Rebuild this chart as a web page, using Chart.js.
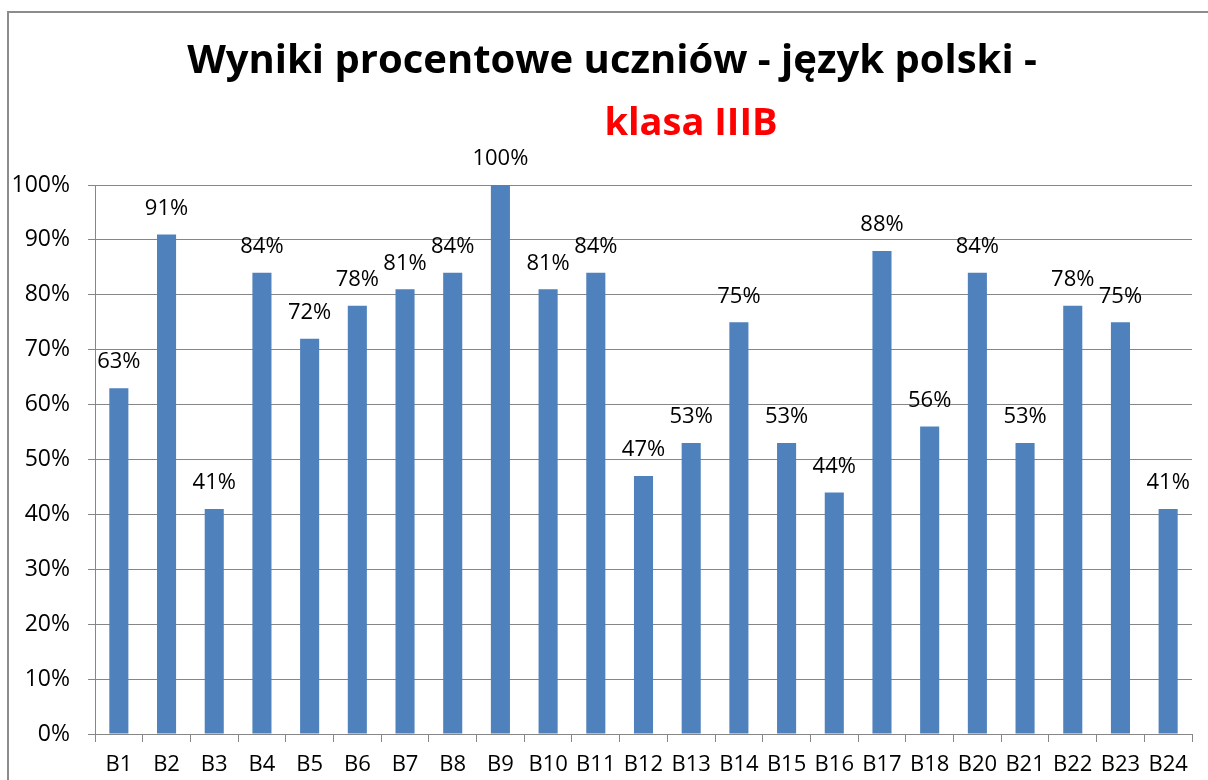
<!DOCTYPE html>
<html>
<head>
<meta charset="utf-8">
<script src="https://cdn.jsdelivr.net/npm/chart.js@4"></script>
<style>
  html, body { margin: 0; padding: 0; background: #fff; }
  #wrap { width: 1208px; height: 780px; }
</style>
</head>
<body>
<div id="wrap"><canvas id="resultsChart" width="1208" height="780"></canvas></div>
<script>
// dane wykresu
const categories = ['B1', 'B2', 'B3', 'B4', 'B5', 'B6', 'B7', 'B8', 'B9', 'B10', 'B11', 'B12',
    'B13', 'B14', 'B15', 'B16', 'B17', 'B18', 'B20', 'B21', 'B22', 'B23', 'B24'];
const scores = [63, 91, 41, 84, 72, 78, 81, 84, 100, 81, 84, 47, 53, 75, 53, 44, 88, 56, 84, 53, 78, 75, 41];
const titleLine1 = 'Wyniki procentowe uczniów - język polski -';
const titleLine2 = 'klasa IIIB';

const FONT = '"Open Sans", "Noto Sans", sans-serif';

// ramka i tytuł
const framePlugin = {
    id: 'frame',
    beforeDraw(chart) {
        const ctx = chart.ctx;
        ctx.save();
        ctx.strokeStyle = '#8c8c8c';
        ctx.lineWidth = 2;
        ctx.strokeRect(8, 12, 1400, 1000);
        ctx.restore();
    },
    afterDraw(chart) {
        const ctx = chart.ctx;
        ctx.save();
        ctx.textAlign = 'center';
        ctx.textBaseline = 'middle';
        ctx.font = 'bold 40px ' + FONT;
        ctx.fillStyle = '#000';
        ctx.fillText(titleLine1, 612, 62);
        ctx.font = 'bold 38px ' + FONT;
        ctx.fillStyle = '#ff0000';
        ctx.fillText(titleLine2, 691, 124);
        ctx.restore();
    }
};

// etykiety wartości nad słupkami
const valueLabels = {
    id: 'valueLabels',
    afterDatasetsDraw(chart) {
        const ctx = chart.ctx;
        const meta = chart.getDatasetMeta(0);
        ctx.save();
        ctx.font = '22px ' + FONT;
        ctx.fillStyle = '#000';
        ctx.textAlign = 'center';
        ctx.textBaseline = 'middle';
        meta.data.forEach((bar, i) => {
            ctx.fillText(scores[i] + '%', bar.x, bar.y - 26);
        });
        ctx.restore();
    }
};

new Chart(document.getElementById('resultsChart').getContext('2d'), {
    type: 'bar',
    data: {
        labels: categories,
        datasets: [{
            data: scores,
            backgroundColor: '#4f81bd',
            borderWidth: 0,
            barPercentage: 0.4,
            categoryPercentage: 1.0
        }]
    },
    options: {
        responsive: false,
        animation: false,
        devicePixelRatio: 1,
        layout: { padding: { top: 185, right: 16, bottom: 0, left: 0 } },
        plugins: {
            legend: { display: false },
            title: { display: false },
            tooltip: { enabled: false }
        },
        scales: {
            y: {
                min: 0,
                max: 100,
                ticks: {
                    stepSize: 10,
                    color: '#000',
                    padding: 18,
                    font: { family: FONT, size: 23 },
                    callback: v => v + '%'
                },
                grid: { color: '#868686', lineWidth: 1, tickLength: 7 },
                border: { display: true, color: '#868686', width: 1 },
                afterFit(scale) { scale.width = 95; }
            },
            x: {
                ticks: {
                    color: '#000',
                    padding: 10,
                    autoSkip: false,
                    maxRotation: 0,
                    font: { family: FONT, size: 22 }
                },
                grid: { drawOnChartArea: false, color: '#868686', tickLength: 8, offset: true },
                border: { display: true, color: '#868686', width: 1 },
                afterFit(scale) { scale.height = 46; }
            }
        }
    },
    plugins: [framePlugin, valueLabels]
});
</script>
</body>
</html>
